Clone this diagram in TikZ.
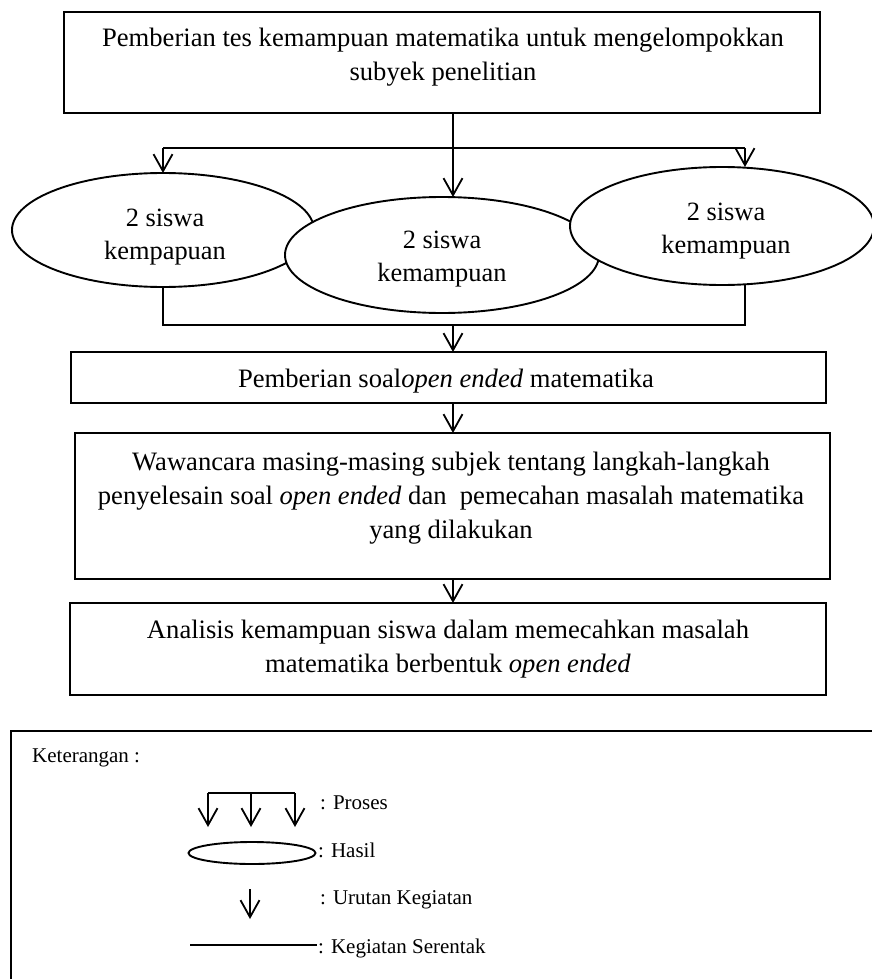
\documentclass[tikz,border=0pt]{standalone}
\usepackage{fontspec}
\setmainfont{Liberation Serif}
\usetikzlibrary{arrows.meta,shapes.geometric}
\begin{document}
\begin{tikzpicture}[x=1pt,y=-1pt,
  box/.style={draw,line width=2.3pt,rectangle,inner sep=0pt,outer sep=0pt},
  oval/.style={draw,fill=white,ellipse,line width=1.9pt,inner sep=0pt,outer sep=0pt},
  conn/.style={line width=1.8pt},
  arr/.style={conn,-{Straight Barb[length=17pt,width=19pt]}},
  btxt/.style={align=center,inner sep=0pt,font=\fontsize{26.6}{34}\selectfont},
  etxt/.style={align=center,inner sep=0pt,font=\fontsize{26.4}{33}\selectfont},
  ltxt/.style={anchor=base west,inner sep=0pt,font=\fontsize{21}{25}\selectfont}]
\clip (0,0) rectangle (872,979);
\fill[white] (0,0) rectangle (872,979);

% boxes
\node[box,minimum width=756pt,minimum height=101pt] (b1) at (442,62.5) {};
\node[btxt] (t1) at (443,57.5) {Pemberian tes kemampuan matematika untuk mengelompokkan\\subyek penelitian};

\node[box,minimum width=755pt,minimum height=51pt] (b2) at (448.5,377.5) {};
\node[btxt,anchor=base] (t2) at (446,387) {Pemberian soal\textit{open ended} matematika};

\node[box,minimum width=755pt,minimum height=146pt] (b3) at (452.5,506) {};
\node[btxt] (t3) at (451,498) {Wawancara masing-masing subjek tentang langkah-langkah\\penyelesain soal \textit{open ended} dan~ pemecahan masalah matematika\\yang dilakukan};

\node[box,minimum width=756pt,minimum height=92pt] (b4) at (448,649) {};
\node[btxt] (t4) at (448,649) {Analisis kemampuan siswa dalam memecahkan masalah\\matematika berbentuk \textit{open ended}};

% ellipses
\node[oval,minimum width=302pt,minimum height=114pt] (eL) at (163,230) {};
\node[etxt] (tL) at (165,237.5) {2 siswa\\kempapuan};
\node[oval,minimum width=314pt,minimum height=116pt] (eM) at (442,255) {};
\node[etxt] (tM) at (442,259.5) {2 siswa\\kemampuan};
\node[oval,minimum width=304pt,minimum height=118pt] (eR) at (722,226) {};
\node[etxt] (tR) at (726,231) {2 siswa\\kemampuan};

% connectors
\coordinate (xm) at (453,0);
\coordinate (hl) at (163,148);
\coordinate (hr) at (745,148);
\coordinate (bl) at (163,325);
\coordinate (br) at (745,325);
\draw[conn] (hl) -- (hr);
\draw[arr] (hl) -- (hl |- eL.north);
\draw[arr] (hr) -- (hr |- eR.north);
\draw[arr] (b1.south -| xm) -- (xm |- eM.north);
\draw[conn] (eL.south) -- (bl) -- (br) -- (br |- eR.south);
\draw[arr] (xm |- bl) -- (xm |- b2.north);
\draw[arr] (b2.south -| xm) -- (xm |- b3.north);
\draw[arr] (b3.south -| xm) -- (xm |- b4.north);

% legend
\draw[line width=2.1pt] (11,731) rectangle (900,1000);
\node[ltxt] (kt) at (32,762) {Keterangan :};

\coordinate (pa) at (208,793);
\coordinate (pb) at (251,793);
\coordinate (pc) at (295,793);
\coordinate (pa2) at (208,827);
\coordinate (pb2) at (251,827);
\coordinate (pc2) at (295,827);
\draw[conn] (pa) -- (pc);
\draw[arr] (pa) -- (pa2);
\draw[arr] (pb) -- (pb2);
\draw[arr] (pc) -- (pc2);
\node[ltxt] (lp) at (320,809) {: Proses};

\node[oval,minimum width=127pt,minimum height=22pt] (hasil) at (252,853) {};
\node[ltxt] (lh) at (318,857) {: Hasil};

\coordinate (u1) at (250,889);
\coordinate (u2) at (250,919);
\draw[arr] (u1) -- (u2);
\node[ltxt] (lu) at (320,904) {: Urutan Kegiatan};

\coordinate (s1) at (190,945);
\coordinate (s2) at (317,945);
\draw[conn] (s1) -- (s2);
\node[ltxt] (ls) at (318,953) {: Kegiatan Serentak};
\end{tikzpicture}
\end{document}
